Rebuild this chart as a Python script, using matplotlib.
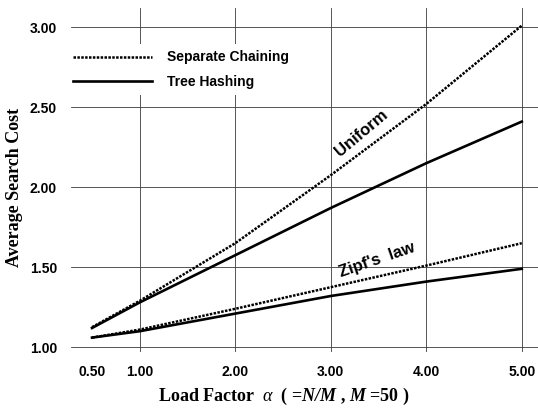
import matplotlib
matplotlib.use("Agg")
import matplotlib.pyplot as plt

alpha = [0.5, 1.0, 2.0, 3.0, 4.0, 5.0]
uni_chain = [1.125, 1.29, 1.65, 2.075, 2.52, 3.01]
uni_tree = [1.12, 1.28, 1.575, 1.87, 2.15, 2.41]
zipf_chain = [1.06, 1.11, 1.24, 1.375, 1.51, 1.65]
zipf_tree = [1.06, 1.10, 1.21, 1.32, 1.41, 1.49]

xticks = [1, 2, 3, 4, 5]
yticks = [1.0, 1.5, 2.0, 2.5, 3.0]

plt.rcParams['mathtext.fontset'] = 'custom'
plt.rcParams['mathtext.rm'] = 'Liberation Serif:bold'
plt.rcParams['mathtext.it'] = 'Liberation Serif:italic'
plt.rcParams['mathtext.bf'] = 'Liberation Serif:bold'
plt.rcParams['mathtext.bfit'] = 'Liberation Serif:bold:italic'

fig = plt.figure(figsize=(5.38, 4.08), dpi=100)
ax = fig.add_axes([71/538., 56/408., 1 - 71/538., 344/408.])

dots = (0, (1, 0.55))
ax.plot(alpha, uni_chain, color='black', lw=1.8, linestyle=dots, label='Separate Chaining')
ax.plot(alpha, uni_tree, color='black', lw=1.9, label='Tree Hashing')
ax.plot(alpha, zipf_chain, color='black', lw=1.8, linestyle=dots)
ax.plot(alpha, zipf_tree, color='black', lw=1.9)

ax.set_xlim(0.28, 5.17)
ax.set_ylim(0.97, 3.12)
for s in ax.spines.values():
    s.set_visible(False)

ax.set_xticks(xticks)
ax.set_xticklabels(['%.2f' % v for v in xticks])
ax.set_xticks([0.5], minor=True)
ax.set_xticklabels(['0.50'], minor=True)
ax.set_yticks(yticks)
ax.set_yticklabels(['%.2f' % v for v in yticks])
ax.tick_params(which='both', length=0, labelsize=10)
ax.tick_params(axis='x', which='both', pad=9)
ax.tick_params(axis='y', pad=10)
for t in ax.get_xticklabels(which='both') + ax.get_yticklabels():
    t.set_fontfamily('Liberation Sans')
    t.set_fontweight('bold')
ax.grid(True, which='major', color='#3a3a3a', lw=0.6)
ax.set_axisbelow(True)

leg = ax.legend(loc='upper left', bbox_to_anchor=(-0.009, 0.895), frameon=True,
                fancybox=False, edgecolor='none', facecolor='white', framealpha=1,
                handlelength=5.7, handletextpad=1.1, labelspacing=0.75,
                borderaxespad=0, borderpad=0.45,
                prop={'family': 'Liberation Sans', 'weight': 'bold', 'size': 10})
leg.set_zorder(5)

ax.text(3.32, 2.34, 'Uniform', rotation=40, ha='center', va='center',
        fontsize=12, fontweight='bold', family='Liberation Sans')
ax.text(3.48, 1.545, "Zipf's  law", rotation=19, ha='center', va='center',
        fontsize=12, fontweight='bold', family='Liberation Sans')

fig.text(284/538., 1 - 396/408., r'Load Factor  $\mathit{\alpha}$  ( =$\mathbfit{N/M}$ , $\mathbfit{M}$ =50 )',
         ha='center', va='center', fontsize=13, family='Liberation Serif', fontweight='bold')
fig.text(15/538., 1 - 187/408., 'Average Search Cost', rotation=90, ha='center', va='center',
         fontsize=13, family='Liberation Serif', fontweight='bold')

fig.savefig('out.png', dpi=100)
